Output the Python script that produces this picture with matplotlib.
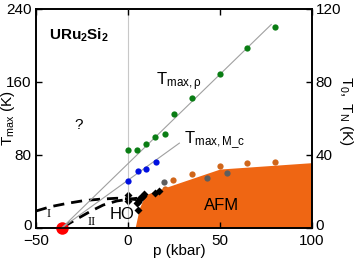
import numpy as np
import matplotlib
matplotlib.use("Agg")
import matplotlib.pyplot as plt
from matplotlib.transforms import ScaledTranslation

plt.rcParams['font.family'] = 'Liberation Sans'
plt.rcParams['mathtext.fontset'] = 'custom'
plt.rcParams['mathtext.rm'] = 'Liberation Sans'
plt.rcParams['mathtext.it'] = 'Liberation Sans:italic'
plt.rcParams['mathtext.bf'] = 'Liberation Sans:bold'

# T_max from resistivity (left axis, K)
p_rho = [0, 5, 10, 15, 20, 25, 35, 50, 65, 80]
t_rho = [85, 85, 92, 100, 103, 125, 143, 169, 197, 220]

# T_max from M_c (left axis, K)
p_mc = [0, 5.5, 10, 15.5]
t_mc = [52, 62, 65, 72]

# guide lines from the critical point (left axis)
p_line_rho = [-36, 78]
t_line_rho = [0, 223]
p_line_mc = [-36, 28]
t_line_mc = [0, 93]

# T0 (HO) points, right axis
p_t0 = [0.2, 0.2, 4.8, 5.5, 6.2, 6.8, 7.5, 8.0, 8.8, 14.7, 17.1, 5.3]
t_t0 = [18.1, 15.0, 13.5, 14.2, 15.3, 16.2, 17.2, 17.8, 18.6, 19.3, 20.4, 9.9]

# TN points, right axis
p_tn = [20.2, 24.7, 35, 50, 65, 80]
t_tn = [21.4, 26.3, 29.4, 34.1, 35.5, 36.0]
p_tn_grey = [19.8, 42.9, 54.1]
t_tn_grey = [25.0, 27.2, 30.3]

# AFM phase boundary, right axis
p_afm = [3.9, 6.2, 9.3, 13.8, 28, 50, 100]
t_afm = [0, 10.8, 18.0, 19.9, 24.8, 32.3, 35.8]

# dashed boundaries I and II, right axis
p_dash1 = [-50, -42, -33, -24, -15, -6, 0, 5]
t_dash1 = [9.3, 11.7, 13.5, 15.0, 15.8, 16.3, 16.0, 15.5]
p_dash2 = [-35, -28, -20.6, -13.4, -6, 0, 5]
t_dash2 = [0.7, 4.8, 9.0, 12.6, 14.8, 15.7, 16.3]

p_crit = -36

fig = plt.figure(figsize=(3.54, 2.6), dpi=100)
ax = fig.add_axes([0.1017, 0.1231, 0.7788, 0.8423])
ax2 = ax.twinx()

ax.set_xlim(-50, 100)
ax.set_ylim(0, 240)
ax2.set_ylim(0, 120)

ax.axvline(0, color='#c8c8c8', lw=0.8, zorder=0)
ax.plot(p_line_rho, t_line_rho, color='#a0a0a0', lw=0.8, zorder=1)
ax.plot(p_line_mc, t_line_mc, color='#a0a0a0', lw=0.8, zorder=1)
ax.plot(p_rho, t_rho, 'o', color='#0a7d14', ms=4.5, mec='none', zorder=3)
ax.plot(p_mc, t_mc, 'o', color='#0010e0', ms=4.5, mec='none', zorder=3)

ax2.plot(p_tn, t_tn, 'o', color='#d0661a', ms=4.5, mec='none', zorder=1)
ax2.fill_between(p_afm, t_afm, 0, color='#ef6613', lw=0, zorder=2)
ax2.plot(p_tn_grey, t_tn_grey, 'o', color='#5e5e5e', ms=4.5, mec='none', zorder=3)
ax2.plot(p_dash1, t_dash1, '--', color='black', lw=2, dashes=(4, 2.5), zorder=3)
ax2.plot(p_dash2, t_dash2, '--', color='black', lw=2, dashes=(4, 2.5), zorder=3)
ax2.plot(p_t0, t_t0, 'D', color='black', ms=4, mec='none', zorder=4)
ax2.plot([p_crit], [0], 'o', color='#ff0000', ms=9, mec='none', zorder=5, clip_on=False)

ax.set_xticks([-50, 0, 50, 100])
ax.set_yticks([0, 80, 160, 240])
ax2.set_yticks([0, 40, 80, 120])
for a in (ax, ax2):
    a.tick_params(direction='in', length=4, width=1, labelsize=11, top=True, pad=3)
    for s in a.spines.values():
        s.set_linewidth(1.2)
ax.tick_params(axis='x', pad=4)

# the "0" labels sit a little above the bottom spine in the reference
fig.canvas.draw()
lift = ScaledTranslation(0, 3 / 100, fig.dpi_scale_trans)
for a in (ax, ax2):
    lab = a.get_yticklabels()[0]
    lab.set_transform(lab.get_transform() + lift)

# axis labels placed by hand, as in the reference
ax.text(0.519, -0.105, 'p (kbar)', fontsize=11, ha='center', va='center',
        transform=ax.transAxes, clip_on=False)
ax.text(-0.1, 0.5, r'$\mathregular{T_{max}}$ (K)', fontsize=11, rotation=90,
        ha='center', va='center', transform=ax.transAxes, clip_on=False)
ax.text(1.124, 0.534, r'$\mathregular{T_0,\ T_N}$ (K)', fontsize=11, rotation=270,
        ha='center', va='center', transform=ax.transAxes, clip_on=False)

ax.text(-43, 211, r'$\mathbf{URu_2Si_2}$', fontsize=11, va='center')
ax.text(-27, 113, '?', fontsize=11, ha='center', va='center')
ax.text(15.5, 160, r'$\mathregular{T_{max,\rho}}$', fontsize=12, va='center')
ax.text(30.5, 96, r'$\mathregular{T_{max,M\_c}}$', fontsize=12, va='center')
ax.text(-3, 15, 'HO', fontsize=12, ha='center', va='center', zorder=6)
ax.text(51, 25, 'AFM', fontsize=12, ha='center', va='center', zorder=6)
ax.text(-43, 15, 'I', fontsize=9, family='Liberation Serif', ha='center', va='center')
ax.text(-19.5, 6.5, 'II', fontsize=9, family='Liberation Serif', ha='center', va='center')

ax.set_zorder(ax2.get_zorder() + 1)
ax.patch.set_visible(False)

fig.savefig('out.png', dpi=100)
